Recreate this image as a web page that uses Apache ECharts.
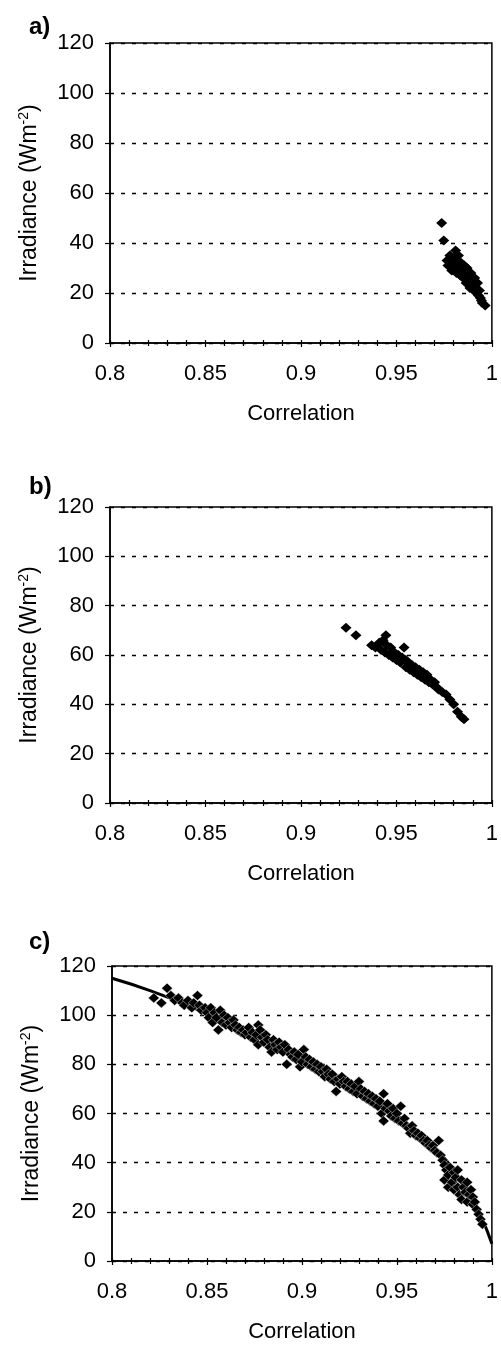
<!DOCTYPE html>
<html>
<head>
<meta charset="utf-8">
<script src="https://cdn.jsdelivr.net/npm/echarts@6/dist/echarts.min.js"></script>
<style>
html,body{margin:0;padding:0;background:#fff;}
#chart{width:501px;height:1347px;}
</style>
</head>
<body>
<div id="chart"></div>
<script>
// Panel labels and axis texts
const panelLabels = ['a)', 'b)', 'c)'];
const xTitle = 'Correlation';
const yTitle = 'Irradiance (Wm{sup|-2})';

// Panel a: [correlation, irradiance]
const dataA = [
  [0.9737,48],[0.9748,41],[0.9765,33],[0.977,31],[0.978,35],[0.9785,32],[0.979,29],[0.980,34],
  [0.981,37],[0.981,31],[0.9815,28],[0.982,33],[0.9825,35],[0.983,30],[0.9835,27],[0.984,32],
  [0.9845,29],[0.985,26],[0.9855,31],[0.986,28],[0.9865,24],[0.987,30],[0.9875,27],[0.988,25],
  [0.9885,22],[0.989,28],[0.9895,25],[0.990,23],[0.9905,21],[0.991,26],[0.9915,22],[0.992,20],
  [0.9925,24],[0.993,19],[0.9935,21],[0.994,18],[0.9945,17],[0.995,16],[0.9965,15]
];

// Panel b
const dataB = [
  [0.9236,71],[0.9288,68],[0.937,64],[0.939,63],[0.941,65],[0.942,62],[0.943,66],[0.9445,68],
  [0.944,61],[0.945,64],[0.946,60],[0.947,63],[0.948,59],[0.949,61],[0.950,58],[0.951,60],
  [0.952,57],[0.953,59],[0.954,63],[0.955,58],[0.955,55],[0.956,57],[0.957,54],[0.958,56],
  [0.959,53],[0.960,55],[0.961,52],[0.962,54],[0.963,51],[0.964,53],[0.965,50],[0.966,52],
  [0.967,49],[0.968,50],[0.969,48],[0.970,49],[0.971,47],[0.972,46],[0.974,45],[0.976,44],
  [0.978,42],[0.980,40],[0.982,37],[0.984,35],[0.9854,34]
];

// Panel c scatter
const dataC = [
  [0.822,107],[0.826,105],[0.829,111],[0.831,108],[0.833,106],[0.835,107],[0.837,105],[0.838,104],
  [0.840,106],[0.842,103],[0.843,105],[0.845,108],[0.846,104],[0.847,102],[0.849,103],[0.850,101],
  [0.851,99],[0.852,103],[0.853,97],[0.854,101],[0.855,99],[0.856,94],[0.857,102],[0.858,97],
  [0.859,100],[0.860,96],[0.861,99],[0.862,97],[0.863,95],[0.864,98],[0.865,96],[0.866,94],
  [0.867,95],[0.868,93],[0.869,94],[0.870,92],[0.871,93],[0.872,95],[0.873,91],[0.874,93],
  [0.875,90],[0.876,92],[0.877,96],[0.877,88],[0.878,94],[0.879,91],[0.880,89],[0.881,92],
  [0.882,90],[0.883,87],[0.884,85],[0.885,90],[0.886,88],[0.887,86],[0.888,89],[0.889,87],
  [0.890,85],[0.891,88],[0.892,80],[0.893,86],[0.894,84],[0.895,83],[0.896,85],[0.897,82],
  [0.898,84],[0.899,79],[0.900,81],[0.901,86],[0.902,83],[0.903,80],[0.904,82],[0.905,79],
  [0.906,81],[0.907,78],[0.908,80],[0.909,77],[0.910,79],[0.911,77],[0.912,75],[0.913,78],
  [0.914,76],[0.915,74],[0.916,76],[0.917,73],[0.918,69],[0.919,74],[0.920,72],[0.921,75],
  [0.922,73],[0.923,71],[0.924,73],[0.925,70],[0.926,72],[0.927,69],[0.928,71],[0.929,68],
  [0.930,73],[0.931,70],[0.932,67],[0.933,69],[0.934,66],[0.935,68],[0.936,65],[0.937,67],
  [0.938,64],[0.939,66],[0.940,63],[0.941,65],[0.942,60],[0.943,68],[0.943,57],[0.944,62],
  [0.945,64],[0.946,61],[0.947,59],[0.948,62],[0.949,58],[0.950,60],[0.951,57],[0.952,63],
  [0.953,56],[0.954,58],[0.955,55],[0.956,54],[0.957,52],[0.958,55],[0.959,53],[0.960,51],
  [0.961,52],[0.962,50],[0.963,51],[0.964,49],[0.965,48],[0.966,49],[0.967,47],[0.968,46],
  [0.969,47],[0.970,45],[0.971,44],[0.972,49],[0.973,43],[0.974,41],[0.975,39],[0.975,33],
  [0.976,37],[0.977,30],[0.977,35],[0.978,38],[0.979,32],[0.980,36],[0.980,29],[0.981,34],
  [0.982,37],[0.982,30],[0.983,27],[0.984,33],[0.984,25],[0.985,30],[0.986,28],[0.987,32],
  [0.987,24],[0.988,27],[0.989,29],[0.990,23],[0.990,26],[0.991,24],[0.992,21],[0.993,19],
  [0.994,17],[0.995,15]
];

// Panel c fitted curve
const fitC = [
  [0.80,115],[0.82,110],[0.84,104],[0.86,97],[0.88,90],[0.90,82],[0.92,74],
  [0.94,65],[0.96,53],[0.97,46],[0.98,37],[0.99,25],[0.995,17],[1.0,7]
];

const FONT = '"Liberation Sans", Arial, Helvetica, sans-serif';
const grids = [
  {left:110, top:43, width:383, height:300},
  {left:110, top:507, width:383, height:296},
  {left:112, top:966, width:385, height:295}
];
const labelTops = [10, 470, 925];

const chart = echarts.init(document.getElementById('chart'), null, {renderer:'canvas'});

const xAxes = [], yAxes = [];
grids.forEach((g, i) => {
  xAxes.push({
    type:'value', gridIndex:i, min:0.8, max:1, interval:0.05,
    name:xTitle, nameLocation:'middle', nameGap:60,
    nameTextStyle:{fontFamily:FONT, fontSize:22, color:'#000'},
    axisLine:{show:true, onZero:false, lineStyle:{color:'#000', width:1.5}},
    axisTick:{show:true, length:4, lineStyle:{color:'#000', width:1.2}},
    minorTick:{show:true, splitNumber:5, length:3, lineStyle:{color:'#000', width:1.2}},
    splitLine:{show:false},
    axisLabel:{fontFamily:FONT, fontSize:22, color:'#000', margin:20,
      formatter: v => String(+v.toFixed(2))}
  });
  xAxes.push({
    type:'value', gridIndex:i, min:0.8, max:1, interval:0.05, position:'bottom',
    axisLine:{show:false},
    axisTick:{show:true, inside:true, length:3, lineStyle:{color:'#000', width:1.2}},
    minorTick:{show:true, splitNumber:5, length:3, lineStyle:{color:'#000', width:1.2}},
    axisLabel:{show:false}, splitLine:{show:false}
  });
  yAxes.push({
    type:'value', gridIndex:i, min:0, max:120, interval:20,
    name:yTitle, nameLocation:'middle', nameGap:68, nameRotate:90,
    nameTextStyle:{fontFamily:FONT, fontSize:23, color:'#000',
      rich:{sup:{fontFamily:FONT, fontSize:14, color:'#000', padding:[0,0,11,0]}}},
    axisLine:{show:true, onZero:false, lineStyle:{color:'#000', width:1.5}},
    axisTick:{show:true, length:5, lineStyle:{color:'#000', width:1.2}},
    splitLine:{show:true, lineStyle:{color:'#000', width:1.3, type:[4,7]}},
    axisLabel:{fontFamily:FONT, fontSize:22, color:'#000', margin:16}
  });
});

const sym = {type:'scatter', symbol:'diamond', symbolSize:[11,10], z:3,
  itemStyle:{color:'#000', opacity:1}};

chart.setOption({
  animation:false,
  backgroundColor:'#fff',
  title: panelLabels.map((t, i) => ({
    text:t, left:24, top:labelTops[i],
    textStyle:{fontFamily:FONT, fontSize:24, fontWeight:'bold', color:'#000'}
  })),
  grid: grids.map(g => Object.assign({show:true, borderColor:'#000', borderWidth:1.5, backgroundColor:'transparent'}, g)),
  xAxis: xAxes,
  yAxis: yAxes,
  series: [
    Object.assign({}, sym, {xAxisIndex:0, yAxisIndex:0, data:dataA}),
    Object.assign({}, sym, {xAxisIndex:2, yAxisIndex:1, data:dataB}),
    {type:'line', xAxisIndex:4, yAxisIndex:2, data:fitC, smooth:true, showSymbol:false, z:2,
      lineStyle:{color:'#000', width:3}},
    Object.assign({}, sym, {xAxisIndex:4, yAxisIndex:2, data:dataC,
      itemStyle:{color:'#000', opacity:1, borderColor:'#fff', borderWidth:0.4}})
  ]
});
</script>
</body>
</html>
